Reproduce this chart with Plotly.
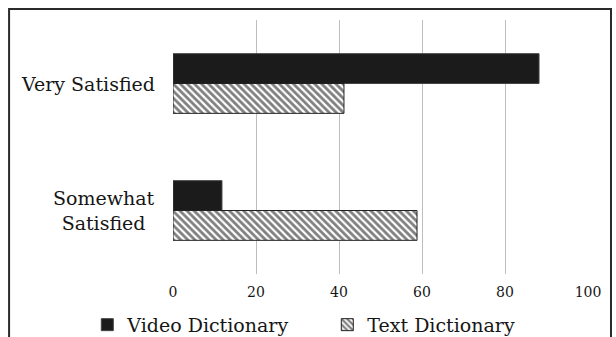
import plotly.graph_objects as go

# Survey responses (% of respondents)
categories = ["Very Satisfied", "Somewhat<br>Satisfied"]
video_dictionary = [88.2, 11.8]
text_dictionary = [41.2, 58.8]
x_ticks = [0, 20, 40, 60, 80, 100]

FONT = "DejaVu Serif"
INK = "#161616"

fig = go.Figure()
fig.add_trace(go.Bar(
    name="Video Dictionary",
    y=categories, x=video_dictionary, orientation="h",
    marker=dict(color="#1b1b1b", line=dict(color="#444444", width=1)),
))
fig.add_trace(go.Bar(
    name="Text Dictionary",
    y=categories, x=text_dictionary, orientation="h",
    marker=dict(
        color="white",
        line=dict(color="#222222", width=1),
        pattern=dict(shape="\\", fgcolor="#000000", bgcolor="white",
                     size=5, solidity=0.55),
    ),
))

# Category labels: right-aligned block, lines centred within it
for cat in categories:
    fig.add_annotation(
        x=0, xref="paper", y=cat, yref="y",
        text=cat, showarrow=False,
        xanchor="right", yanchor="middle", align="center",
        xshift=-16,
        font=dict(family=FONT, size=19, color=INK),
    )

# Frame around the whole chart
fig.add_shape(
    type="rect", xref="paper", yref="paper",
    x0=-0.395, x1=1.0554, y0=-0.4, y1=1.0433,
    line=dict(color="#2a2a2a", width=2), fillcolor="rgba(0,0,0,0)",
    layer="above",
)

fig.update_layout(
    width=616, height=337,
    margin=dict(l=173, r=28, t=20, b=63, autoexpand=False),
    paper_bgcolor="white", plot_bgcolor="white",
    barmode="group", bargap=0.53, bargroupgap=0,
    showlegend=True,
    legend=dict(
        orientation="h", x=-0.2065, xanchor="left",
        y=-0.2, yanchor="middle",
        font=dict(family=FONT, size=19, color=INK),
        entrywidth=195, entrywidthmode="pixels",
        bgcolor="rgba(0,0,0,0)",
    ),
    xaxis=dict(
        range=[0, 100], tickvals=x_ticks,
        showgrid=True, gridcolor="#bdbdbd", gridwidth=1,
        zeroline=False, showline=False,
        ticks="", ticklabelstandoff=8,
        tickfont=dict(family=FONT, size=14, color=INK),
        fixedrange=True,
    ),
    yaxis=dict(
        autorange="reversed", showticklabels=False,
        showgrid=False, zeroline=False, showline=False, ticks="",
    ),
)

fig.write_html("out.html")
